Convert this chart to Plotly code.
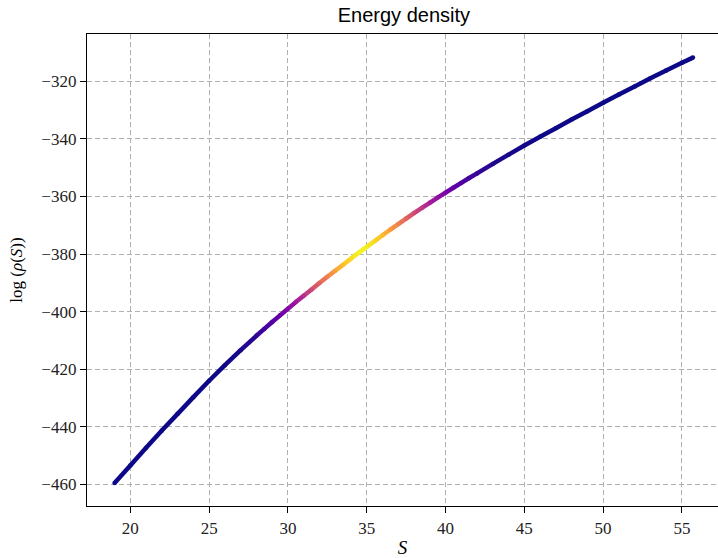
import plotly.graph_objects as go
from plotly.colors import sequential, hex_to_rgb

# ---- data ----
S = [19.0, 20, 21, 22, 23, 24, 25, 26, 27,
     28, 28.5, 29, 29.5, 30, 30.5, 31, 31.5, 32, 32.5, 33, 33.5, 34, 34.5,
     35, 35.5, 36, 36.5, 37, 37.5, 38, 38.5, 39, 39.5, 40, 40.5, 41, 41.5, 42,
     43, 44, 45, 46, 47, 48, 49, 50, 51, 52, 53, 54, 55, 55.7]

log_rho = [-459.5, -453.4, -447.3, -441.3, -435.5, -429.7, -424.0, -418.6, -413.4,
           -408.4, -406.0, -403.6, -401.3, -399.0, -396.7, -394.5, -392.3, -390.1, -387.9,
           -385.8, -383.7, -381.6, -379.5,
           -377.5, -375.5, -373.5, -371.5, -369.6, -367.7, -365.8, -364.0, -362.2, -360.4,
           -358.7, -357.0, -355.3, -353.6, -352.0,
           -348.7, -345.5, -342.3, -339.3, -336.3, -333.3, -330.4, -327.5, -324.6, -321.8,
           -319.0, -316.3, -313.6, -311.8]

weight = [0.0, 0.0, 0.0, 0.0, 0.0, 0.0, 0.0, 0.005, 0.02,
          0.07, 0.10, 0.15, 0.20, 0.27, 0.34, 0.42, 0.51, 0.60, 0.69, 0.78, 0.86, 0.93, 0.99,
          0.97, 0.92, 0.85, 0.77, 0.69, 0.60, 0.52, 0.44, 0.36, 0.30,
          0.24, 0.18, 0.14, 0.10, 0.08,
          0.04, 0.02, 0.01, 0.0, 0.0, 0.0, 0.0, 0.0, 0.0, 0.0, 0.0, 0.0, 0.0, 0.0]

x_ticks = [20, 25, 30, 35, 40, 45, 50, 55]
y_ticks = [-460, -440, -420, -400, -380, -360, -340, -320]

x_range = [17.25, 57.29]
y_range = [-467.5, -303.6]

# ---- colormap helper (plasma) ----
PLASMA = [hex_to_rgb(c) for c in sequential.Plasma]


def cmap(v):
    v = min(max(v, 0.0), 1.0)
    pos = v * (len(PLASMA) - 1)
    i = min(int(pos), len(PLASMA) - 2)
    f = pos - i
    a, b = PLASMA[i], PLASMA[i + 1]
    r, g, bl = (a[k] + (b[k] - a[k]) * f for k in range(3))
    return f"rgb({r:.0f},{g:.0f},{bl:.0f})"


fig = go.Figure()

for i in range(len(S) - 1):
    fig.add_trace(go.Scatter(
        x=[S[i], S[i + 1]], y=[log_rho[i], log_rho[i + 1]],
        mode="lines",
        line=dict(color=cmap((weight[i] + weight[i + 1]) / 2), width=4.5),
        hoverinfo="skip", showlegend=False,
    ))

fig.add_trace(go.Scatter(
    x=S, y=log_rho, mode="markers",
    marker=dict(size=4.5, color=[cmap(w) for w in weight], line=dict(width=0)),
    showlegend=False,
))

serif = "Liberation Serif, DejaVu Serif, serif"

fig.update_layout(
    width=718, height=558,
    margin=dict(l=87, r=0, t=34, b=52),
    paper_bgcolor="white", plot_bgcolor="white",
    title=dict(text="Energy density", x=0.5625, xanchor="center", y=0.973, yanchor="middle",
               font=dict(family="Liberation Sans, Arial, sans-serif", size=20, color="black")),
    font=dict(family=serif, color="black"),
)

fig.update_xaxes(
    range=x_range, tickmode="array", tickvals=x_ticks,
    ticktext=[str(t) for t in x_ticks],
    tickfont=dict(family=serif, size=17, color="#222"),
    ticks="outside", ticklen=6, tickwidth=1.2, tickcolor="black",
    showline=True, linecolor="black", linewidth=1.3, mirror=True,
    showgrid=True, gridcolor="#b0b0b0", gridwidth=1, griddash="5px,3px",
    zeroline=False,
    title=dict(text="<i>S</i>", font=dict(family=serif, size=19, color="black"), standoff=8),
    automargin=False,
)

fig.update_yaxes(
    range=y_range, tickmode="array", tickvals=y_ticks,
    ticktext=["\u2212" + str(-t) for t in y_ticks],
    tickfont=dict(family=serif, size=17, color="#222"),
    ticks="outside", ticklen=6, tickwidth=1.2, tickcolor="black",
    showline=True, linecolor="black", linewidth=1.3, mirror=False,
    showgrid=True, gridcolor="#b0b0b0", gridwidth=1, griddash="5px,3px",
    zeroline=False,
    title=dict(text="log (<i>ρ</i>(<i>S</i>))", font=dict(family=serif, size=17, color="black"),
               standoff=14),
    automargin=False,
)

fig.write_html("out.html")
